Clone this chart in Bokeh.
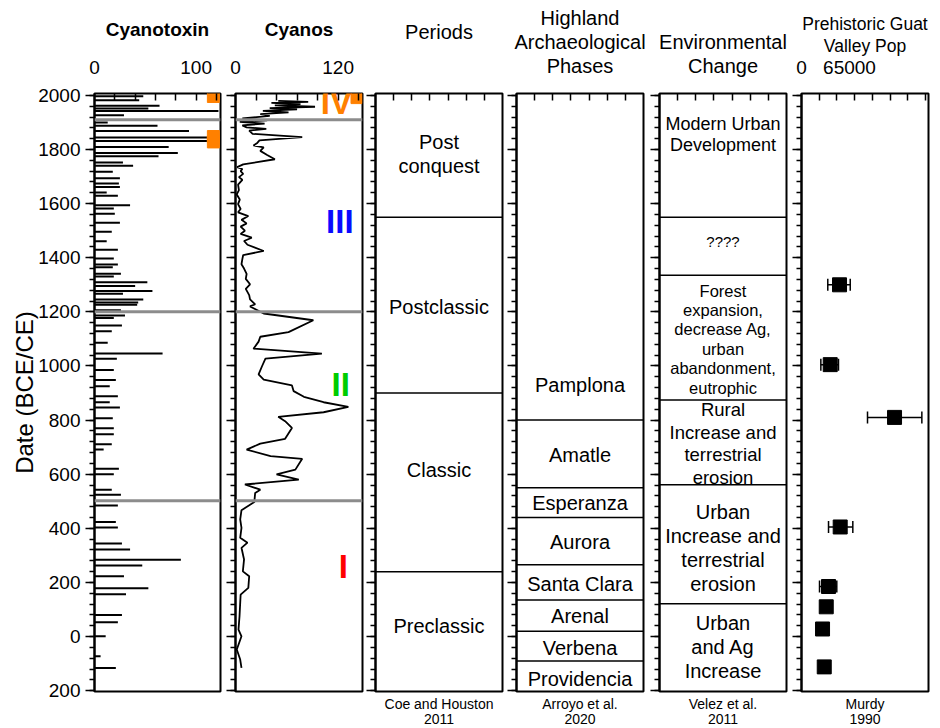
from bokeh.plotting import figure
from bokeh.layouts import row
from bokeh.models import (FixedTicker, Span, Whisker, ColumnDataSource, LinearAxis,
                          Range1d, TeeHead)
from bokeh.embed import file_html
from bokeh.resources import INLINE
from bokeh.core.properties import value

FONT = "Liberation Sans"

# ---------------- data ----------------
toxin_year = [1997, 1982, 1962, 1952, 1942, 1927, 1900, 1888, 1868, 1844, 1831, 1809, 1787, 1775, 1752,
              1740, 1718, 1694, 1674, 1661, 1641, 1629, 1594, 1582, 1563, 1529, 1496, 1461, 1430, 1397,
              1375, 1365, 1341, 1331, 1309, 1296, 1277, 1267, 1246, 1235, 1226, 1206, 1187, 1177, 1150,
              1128, 1086, 1046, 1027, 985, 948, 925, 888, 866, 847, 807, 770, 748, 711, 691,
              620, 600, 543, 524, 484, 423, 403, 344, 322, 284, 263, 223, 179, 156, 80,
              53, 1, -73, -116]
toxin_val = [48, 44, 64, 53, 122, 29, 13, 62, 93, 124, 124, 73, 82, 63, 28,
             38, 18, 25, 24, 25, 12, 23, 35, 19, 20, 25, 17, 12, 23, 19,
             23, 18, 26, 19, 52, 40, 57, 28, 48, 43, 42, 26, 30, 19, 27,
             17, 13, 67, 22, 19, 21, 15, 23, 15, 25, 18, 19, 19, 17, 9,
             24, 19, 17, 26, 23, 21, 23, 27, 35, 85, 47, 29, 53, 31, 27,
             23, 11, 6, 21]
toxin_flag_year = [1996, 1848, 1828]
toxin_flag_val = [117, 117, 117]

cyanos_year = [1980, 1976, 1972, 1968, 1963, 1958, 1953, 1948, 1943, 1937, 1931, 1924, 1915, 1908, 1902,
               1896, 1889, 1882, 1876, 1870, 1858, 1846, 1834, 1823, 1815, 1808, 1795, 1780, 1764, 1745,
               1735, 1728, 1720, 1710, 1698, 1688, 1670, 1650, 1634, 1615, 1598, 1580, 1568, 1554, 1540,
               1527, 1515, 1500, 1488, 1474, 1462, 1448, 1425, 1410, 1395, 1376, 1360, 1340, 1322, 1302,
               1285, 1262, 1246, 1228, 1220, 1194, 1169, 1125, 1108, 1090, 1064, 1046, 1027, 999, 969,
               950, 928, 907, 886, 866, 849, 829, 812, 796, 771, 731, 713, 691, 667, 657,
               617, 599, 580, 562, 543, 531, 497, 467, 433, 402, 365, 347, 328, 285, 241,
               223, 180, 155, 75, 26, 1, -48, -85, -116]
cyanos_val = [50, 85, 42, 76, 46, 93, 40, 72, 32, 62, 29, 40, 8, 37, 5,
              34, 8, 13, 36, 16, 20, 78, 28, 25, 21, 33, 29, 37, 46, 9,
              2, 8, 6, 9, 4, 8, 3, 4, 1.5, 5, 3, 6, 3, 15, 7,
              13, 6, 11, 6, 19, 10, 14, 33, 9, 8, 7, 10, 13, 12, 17,
              12, 16, 17, 23, 17, 33, 91, 62, 29, 27, 21, 101, 35, 31, 27,
              33, 66, 68, 80, 103, 132, 103, 50, 58, 66, 58, 29, 13, 41, 78,
              70, 48, 74, 11, 29, 23, 22, 7, 5.5, 7, 5.5, 14, 7, 10, 8.6,
              16, 15, 6, 4.7, 3.5, 7, 1.5, 5.5, 7]
cyanos_flag_year = [1990]
cyanos_flag_val = [141.5]

zone_bounds = [1910, 1200, 502]
zone_names = ["IV", "III", "II", "I"]
zone_label_year = [1974, 1535, 931, 260]
zone_label_val = [118, 122, 123, 126]
zone_colors = ["#ff8000", "#0a0aff", "#00cc00", "#ff0000"]

period_bounds = [1550, 900, 240]
period_names = ["Post\nconquest", "Postclassic", "Classic", "Preclassic"]
period_mid = [1784, 1217, 615, 39]

phase_bounds = [800, 550, 440, 265, 135, 20, -90]
phase_names = ["Pamplona", "Amatle", "Esperanza", "Aurora", "Santa Clara", "Arenal", "Verbena", "Providencia"]
phase_mid = [929, 670, 493, 349, 194, 76, -42, -157]

env_bounds = [1550, 1335, 874, 561, 121]
env_names = ["Modern Urban\nDevelopment", "????",
             "Forest\nexpansion,\ndecrease Ag,\nurban\nabandonment,\neutrophic",
             "Rural\nIncrease and\nterrestrial\nerosion",
             "Urban\nIncrease and\nterrestrial\nerosion",
             "Urban\nand Ag\nIncrease"]
env_mid = [1856, 1461, 1099, 713, 327, -39]
env_size = ["18px", "15px", "16.5px", "18.5px", "20px", "20px"]

pop_year = [1300, 1005, 810, 405, 185, 110, 28, -112]
pop_mean = [51500, 38900, 126000, 52400, 36600, 33500, 28500, 30800]
pop_low = [35600, 26200, 89400, 36600, 24400, 29500, 24500, 26800]
pop_high = [66000, 50100, 163000, 69500, 47800, 37500, 32500, 34800]

y_major = list(range(-200, 2001, 200))
y_minor = list(range(-200, 2001, 40))
y_labels = {t: str(abs(t)) for t in y_major}

# ---------------- helpers ----------------
Y_START, Y_END = -203, 2007


def panel(x_start, x_end, frame_w, left_border, right_border, title, title_standoff,
          title_bold=False, title_size="20px", title_lh=1.086,
          major=None, minor=None, label_standoff=20, citation=None, first=False):
    p = figure(frame_width=frame_w, frame_height=598,
               x_range=Range1d(x_start, x_end), y_range=Range1d(Y_START, Y_END),
               x_axis_location=None, y_axis_location=None,
               toolbar_location=None, output_backend="svg",
               min_border_left=left_border, min_border_right=right_border,
               min_border_top=93, min_border_bottom=34)
    p.grid.grid_line_color = None
    p.outline_line_color = "black"
    p.outline_line_width = 2
    p.outline_line_alpha = 1
    p.background_fill_color = "white"
    p.border_fill_color = "white"

    yax = LinearAxis(ticker=FixedTicker(ticks=y_major, minor_ticks=y_minor))
    yax.axis_line_width = 2
    yax.axis_line_color = "black"
    yax.major_tick_in = 0
    yax.major_tick_out = 9
    yax.minor_tick_in = 0
    yax.minor_tick_out = 5
    yax.major_tick_line_width = 1.5
    yax.minor_tick_line_width = 1.5
    yax.major_tick_line_color = "black"
    yax.minor_tick_line_color = "black"
    if first:
        yax.major_label_overrides = y_labels
        yax.major_label_text_font = FONT
        yax.major_label_text_font_size = "19px"
        yax.major_label_text_color = "black"
        yax.major_label_standoff = 5
        yax.axis_label = "Date (BCE/CE)"
        yax.axis_label_text_font = FONT
        yax.axis_label_text_font_size = "24px"
        yax.axis_label_text_font_style = "normal"
        yax.axis_label_text_color = "black"
        yax.axis_label_standoff = -3
    else:
        yax.major_label_text_font_size = "1px"
        yax.major_label_text_color = None
        yax.major_label_standoff = 0
    p.add_layout(yax, "left")

    tax = LinearAxis(ticker=FixedTicker(ticks=major or [], minor_ticks=minor or []))
    tax.axis_line_color = None
    tax.major_tick_in = 0
    tax.major_tick_out = 0
    tax.minor_tick_in = 7
    tax.minor_tick_out = 0
    tax.minor_tick_line_width = 1.5
    tax.minor_tick_line_color = "black"
    tax.major_label_text_font = FONT
    tax.major_label_text_font_size = "19px"
    tax.major_label_text_color = "black"
    tax.major_label_standoff = label_standoff
    tax.axis_label = title
    tax.axis_label_text_font = FONT
    tax.axis_label_text_font_size = title_size
    tax.axis_label_text_font_style = "bold" if title_bold else "normal"
    tax.axis_label_text_color = "black"
    tax.axis_label_text_line_height = title_lh
    tax.axis_label_standoff = title_standoff
    p.add_layout(tax, "above")

    if citation:
        bax = LinearAxis(ticker=FixedTicker(ticks=[], minor_ticks=[]))
        bax.axis_line_color = None
        bax.major_tick_out = 0
        bax.major_tick_in = 0
        bax.minor_tick_out = 0
        bax.minor_tick_in = 0
        bax.major_label_text_font_size = "1px"
        bax.major_label_text_color = None
        bax.major_label_standoff = 0
        bax.axis_label = citation
        bax.axis_label_text_font = FONT
        bax.axis_label_text_font_size = "14px"
        bax.axis_label_text_font_style = "normal"
        bax.axis_label_text_color = "black"
        bax.axis_label_text_line_height = 0.97
        bax.axis_label_standoff = 4
        p.add_layout(bax, "below")
    return p


def bounds_lines(p, bounds):
    p.segment(x0=[p.x_range.start] * len(bounds), x1=[p.x_range.end] * len(bounds),
              y0=bounds, y1=bounds, line_color="black", line_width=1.5)


def labels(p, names, ys, size):
    p.text(x=[(p.x_range.start + p.x_range.end) / 2] * len(names), y=ys, text=names,
           text_font=value(FONT), text_font_size=size, text_align="center",
           text_baseline="middle", text_color="black", text_line_height=1.08)


# ---------------- Cyanotoxin ----------------
p1 = panel(0, 124, 126, 94, 4, "Cyanotoxin", 18, title_bold=True, title_size="19px",
           major=[0, 100], minor=[20, 40, 60, 80, 100, 120], first=True)
p1.segment(x0=[0] * len(toxin_year), x1=toxin_val, y0=toxin_year, y1=toxin_year,
           line_color="black", line_width=2)
for b in zone_bounds:
    p1.add_layout(Span(location=b, dimension="width", line_color="#8c8c8c", line_width=3))
p1.scatter(x=toxin_flag_val, y=toxin_flag_year, marker="square", size=12,
           fill_color="#ff8000", line_color="#ff8000")

# ---------------- Cyanos ----------------
p2 = panel(0, 148.5, 127, 11, 3, "Cyanos", 18, title_bold=True, title_size="19px",
           major=[0, 120], minor=[24, 48, 72, 96, 120, 144])
p2.line(x=cyanos_val, y=cyanos_year, line_color="black", line_width=1.8)
for b in zone_bounds:
    p2.add_layout(Span(location=b, dimension="width", line_color="#8c8c8c", line_width=3))
p2.scatter(x=cyanos_flag_val, y=cyanos_flag_year, marker="square", size=11,
           fill_color="#ff8000", line_color="#ff8000")
p2.text(x=zone_label_val, y=zone_label_year, text=zone_names, text_color=zone_colors,
        text_font=value(FONT), text_font_size="33px", text_font_style="bold",
        text_align="center", text_baseline="middle")

# ---------------- Periods ----------------
sev = [1, 2, 3, 4, 5, 6]
p3 = panel(0, 7, 127, 10, 4, "Periods", 51, major=[], minor=sev, label_standoff=0,
           citation="Coe and Houston\n2011")
bounds_lines(p3, period_bounds)
labels(p3, period_names, period_mid, "20px")

# ---------------- Highland phases ----------------
p4 = panel(0, 7, 127, 10, 6, "Highland\nArchaeological\nPhases", 17, major=[], minor=sev,
           label_standoff=0, citation="Arroyo et al.\n2020")
bounds_lines(p4, phase_bounds)
labels(p4, phase_names, phase_mid, "20px")

# ---------------- Environmental change ----------------
p5 = panel(0, 7, 127, 10, 5, "Environmental\nChange", 17, major=[], minor=sev,
           label_standoff=0, citation="Velez et al.\n2011")
bounds_lines(p5, env_bounds)
env_src = ColumnDataSource(dict(x=[3.5] * len(env_names), y=env_mid, t=env_names, s=env_size))
p5.text(x="x", y="y", text="t", text_font_size="s", source=env_src,
        text_font=value(FONT), text_align="center", text_baseline="middle",
        text_color="black", text_line_height=1.08)

# ---------------- Population ----------------
p6 = panel(0, 172000, 127, 10, 2, "Prehistoric Guat\nValley Pop", 2,
           title_size="17.5px", title_lh=1.1,
           major=[0, 65000], minor=[24000 * k for k in range(1, 8)],
           citation="Murdy\n1990")
pop_src = ColumnDataSource(dict(y=pop_year, x=pop_mean, lo=pop_low, hi=pop_high))
p6.add_layout(Whisker(source=pop_src, base="y", lower="lo", upper="hi", dimension="width",
                      line_color="black", line_width=1.5,
                      upper_head=TeeHead(size=12, line_color="black", line_width=1.5),
                      lower_head=TeeHead(size=12, line_color="black", line_width=1.5)))
p6.scatter(x="x", y="y", source=pop_src, marker="square", size=14,
           fill_color="black", line_color="black")

layout = row(p1, p2, p3, p4, p5, p6, spacing=0)
open("out.html", "w").write(file_html(layout, INLINE))
